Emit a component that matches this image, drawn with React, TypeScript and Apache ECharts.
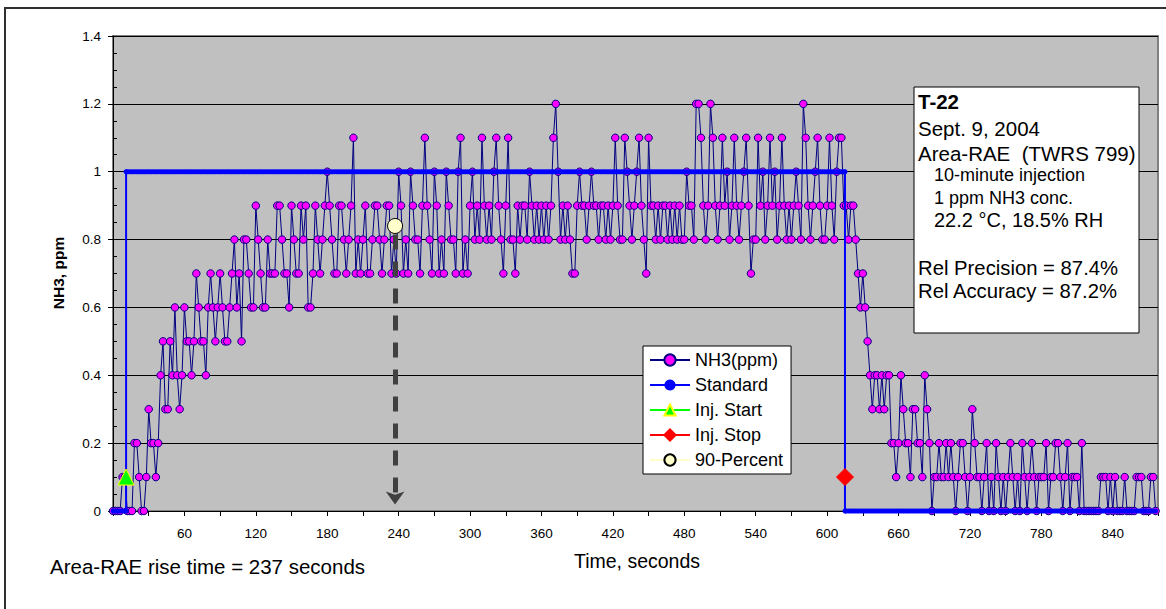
import React, { useEffect, useRef } from "react";
import * as echarts from "echarts";

// ---------------- data ----------------
const SAMPLE_SEC = 2; // one NH3 reading every 2 s, starting at t = 0

// NH3 readings (ppm), one row per minute
const NH3_MIN_00 = [0, 0, 0, 0, 0.1, 0.1, 0, 0, 0, 0.2, 0.2, 0.1, 0, 0, 0.1, 0.3, 0.2, 0.2, 0.1, 0.2, 0.4, 0.5, 0.3, 0.3, 0.5, 0.4, 0.6, 0.4, 0.3, 0.4];
const NH3_MIN_01 = [0.6, 0.5, 0.5, 0.4, 0.5, 0.7, 0.6, 0.5, 0.5, 0.4, 0.6, 0.7, 0.6, 0.5, 0.6, 0.7, 0.6, 0.5, 0.5, 0.6, 0.7, 0.8, 0.6, 0.7, 0.5, 0.8, 0.8, 0.7, 0.6, 0.6];
const NH3_MIN_02 = [0.9, 0.8, 0.7, 0.6, 0.6, 0.8, 0.7, 0.7, 0.7, 0.9, 0.9, 0.8, 0.7, 0.7, 0.6, 0.9, 0.8, 0.7, 0.7, 0.9, 0.8, 0.9, 0.6, 0.6, 0.7, 0.9, 0.8, 0.7, 0.8, 0.9];
const NH3_MIN_03 = [1.0, 0.9, 0.8, 0.7, 0.7, 0.9, 0.9, 0.8, 0.7, 0.8, 0.9, 1.1, 0.7, 0.8, 0.7, 0.8, 0.9, 0.7, 0.7, 0.8, 0.9, 0.9, 0.8, 0.7, 0.8, 0.9, 0.9, 0.7, 0.8, 0.7];
const NH3_MIN_04 = [1.0, 0.9, 0.7, 0.8, 0.7, 1.0, 0.9, 0.8, 0.8, 0.7, 0.9, 1.1, 0.9, 0.8, 0.7, 1.0, 0.9, 0.7, 0.8, 0.7, 1.0, 0.9, 0.8, 0.8, 0.7, 1.0, 1.1, 0.7, 0.8, 0.7];
const NH3_MIN_05 = [0.9, 1.0, 0.8, 0.9, 0.8, 1.1, 0.9, 0.8, 0.9, 0.8, 1.0, 1.1, 0.9, 0.8, 0.7, 0.9, 1.1, 0.8, 0.8, 0.7, 0.9, 0.8, 0.9, 0.9, 0.8, 1.0, 0.9, 0.8, 0.9, 0.8];
const NH3_MIN_06 = [0.9, 0.8, 0.9, 0.8, 0.9, 1.1, 1.2, 1.0, 0.8, 0.9, 0.8, 0.9, 0.8, 0.7, 0.7, 0.9, 1.0, 0.9, 0.9, 0.8, 0.9, 1.0, 0.9, 0.9, 0.8, 0.9, 0.9, 0.8, 0.9, 0.8];
const NH3_MIN_07 = [0.9, 1.1, 0.9, 0.8, 0.8, 1.1, 1.0, 0.9, 0.8, 0.9, 1.0, 1.1, 0.9, 0.8, 0.7, 1.1, 0.9, 0.9, 0.8, 0.9, 0.8, 0.9, 0.9, 0.8, 0.9, 0.8, 0.9, 0.8, 0.9, 0.8];
const NH3_MIN_08 = [0.8, 1.0, 0.9, 0.9, 0.8, 1.2, 1.2, 1.1, 0.9, 0.8, 0.9, 1.2, 1.1, 0.9, 0.8, 0.9, 1.1, 0.9, 1.0, 0.8, 0.9, 1.1, 0.9, 0.8, 0.9, 1.0, 1.1, 0.9, 0.7, 0.8];
const NH3_MIN_09 = [0.8, 1.1, 0.9, 1.0, 0.8, 0.9, 1.1, 0.9, 1.0, 0.8, 0.9, 1.1, 0.9, 0.8, 0.9, 0.8, 0.9, 1.0, 0.9, 0.8, 1.2, 1.1, 0.9, 0.8, 0.9, 1.0, 1.1, 0.9, 0.8, 0.8];
const NH3_MIN_10 = [0.9, 1.1, 0.9, 0.8, 1.0, 1.1, 1.1, 0.9, 0.9, 0.8, 0.9, 0.9, 0.8, 0.7, 0.6, 0.7, 0.6, 0.5, 0.4, 0.3, 0.4, 0.4, 0.3, 0.4, 0.3, 0.4, 0.4, 0.2, 0.2, 0.1];
const NH3_MIN_11 = [0.2, 0.4, 0.3, 0.2, 0.2, 0.1, 0.3, 0.3, 0.2, 0.2, 0.1, 0.4, 0.3, 0.2, 0, 0.1, 0.1, 0.2, 0.1, 0.1, 0.2, 0.1, 0.2, 0.1, 0, 0.1, 0.2, 0.2, 0.1, 0];
const NH3_MIN_12 = [0.1, 0.3, 0.2, 0.1, 0.1, 0, 0.1, 0.2, 0, 0.1, 0, 0.2, 0.1, 0, 0.1, 0, 0.1, 0.2, 0.1, 0, 0.1, 0, 0.2, 0.1, 0, 0.1, 0.2, 0.1, 0, 0.1];
const NH3_MIN_13 = [0.1, 0.1, 0.2, 0, 0.1, 0.1, 0.2, 0.2, 0.1, 0, 0.1, 0.2, 0, 0.1, 0.1, 0.1, 0, 0.2, 0, 0, 0, 0, 0, 0, 0, 0.1, 0.1, 0.1, 0, 0.1];
const NH3_MIN_14 = [0, 0.1, 0, 0, 0, 0.1, 0, 0, 0, 0, 0.1, 0.1, 0.1, 0, 0, 0, 0.1, 0.1, 0];

const NH3_PPM = [
  ...NH3_MIN_00, ...NH3_MIN_01, ...NH3_MIN_02, ...NH3_MIN_03, ...NH3_MIN_04,
  ...NH3_MIN_05, ...NH3_MIN_06, ...NH3_MIN_07, ...NH3_MIN_08, ...NH3_MIN_09,
  ...NH3_MIN_10, ...NH3_MIN_11, ...NH3_MIN_12, ...NH3_MIN_13, ...NH3_MIN_14,
];

const STANDARD_PPM = 1;
const INJ_START_SEC = 11;
const INJ_STOP_SEC = 615;
const INJ_MARK_PPM = 0.1;
const RISE_TIME_SEC = 237;
const NINETY_PCT_PPM = 0.84;

const X_MAX = 878;
const X_TICK = 30;
const X_LABEL_STEP = 60;
const Y_MAX = 1.4;
const Y_TICK = 0.2;
const Y_MINOR = 0.05;

const SERIES_NAMES = ["NH3(ppm)", "Standard", "Inj. Start", "Inj. Stop", "90-Percent"];

const INFO_LINES = [
  { text: "T-22", bold: true, indent: false, size: 20.5 },
  { text: "Sept. 9, 2004", bold: false, indent: false, size: 20.5 },
  { text: "Area-RAE  (TWRS 799)", bold: false, indent: false, size: 20.5 },
  { text: "10-minute injection", bold: false, indent: true, size: 18 },
  { text: "1 ppm NH3 conc.", bold: false, indent: true, size: 18 },
  { text: "22.2 °C, 18.5% RH", bold: false, indent: true, size: 20 },
  { text: "", bold: false, indent: false, size: 20 },
  { text: "Rel Precision = 87.4%", bold: false, indent: false, size: 20.3 },
  { text: "Rel Accuracy = 87.2%", bold: false, indent: false, size: 20.3 },
];
const INFO_LINE_Y = [101, 128, 153, 175, 198, 220, 244, 268, 291];

// ---------------- chart ----------------
const FONT = 'Arial, "Liberation Sans", sans-serif';

export default function App() {
  const ref = useRef<HTMLDivElement>(null);

  useEffect(() => {
    if (!ref.current) return;
    const chart = echarts.init(ref.current, undefined, { renderer: "svg" });

    const times = NH3_PPM.map((_, i) => i * SAMPLE_SEC);
    const nh3Data = NH3_PPM.map((v, i) => [times[i], v]);

    const stdData: number[][] = [];
    times.forEach((t) => {
      if (t > INJ_START_SEC && stdData.length && stdData[stdData.length - 1][0] < INJ_START_SEC) {
        stdData.push([INJ_START_SEC, 0], [INJ_START_SEC, STANDARD_PPM]);
      }
      if (t > INJ_STOP_SEC && stdData[stdData.length - 1][0] < INJ_STOP_SEC) {
        stdData.push([INJ_STOP_SEC, STANDARD_PPM], [INJ_STOP_SEC, 0]);
      }
      stdData.push([t, t >= INJ_START_SEC && t <= INJ_STOP_SEC ? STANDARD_PPM : 0]);
    });

    const infoGraphics = INFO_LINES.map((l, i) => ({
      type: "text",
      x: l.indent ? 934 : 918,
      y: INFO_LINE_Y[i],
      z: 20,
      style: {
        text: l.text,
        font: `${l.bold ? "bold " : ""}${l.size}px ${FONT}`,
        fill: "#000",
        textAlign: "left",
        textVerticalAlign: "middle",
      },
    }));

    chart.setOption({
      animation: false,
      backgroundColor: "#ffffff",
      textStyle: { fontFamily: FONT },
      grid: {
        left: 113,
        top: 36,
        right: 8,
        bottom: 98,
        show: true,
        backgroundColor: "#C0C0C0",
        borderColor: "#808080",
        borderWidth: 2,
      },
      legend: {
        data: SERIES_NAMES,
        orient: "vertical",
        left: 643,
        top: 346,
        padding: [5, 8, 5, 6],
        itemWidth: 40,
        itemHeight: 14,
        itemGap: 7,
        backgroundColor: "#ffffff",
        borderColor: "#000000",
        borderWidth: 1,
        textStyle: { fontSize: 18, color: "#000", fontFamily: FONT },
        selectedMode: false,
      },
      xAxis: {
        type: "value",
        min: 0,
        max: X_MAX,
        interval: X_TICK,
        axisLine: { onZero: false, lineStyle: { color: "#000", width: 1 } },
        axisTick: { show: true, length: 5, lineStyle: { color: "#000" } },
        axisLabel: {
          fontSize: 13.5,
          color: "#000",
          margin: 15,
          formatter: (v: number) => (v > 0 && v % X_LABEL_STEP === 0 ? String(v) : ""),
        },
        splitLine: { show: false },
      },
      yAxis: [
        {
          type: "value",
          min: 0,
          max: Y_MAX,
          interval: Y_TICK,
          position: "left",
          axisLine: { show: true, lineStyle: { color: "#000", width: 1 } },
          axisTick: { show: true, length: 5, lineStyle: { color: "#000" } },
          axisLabel: { fontSize: 13.5, color: "#000", margin: 12 },
          splitLine: { show: true, lineStyle: { color: "#000", width: 1 } },
        },
        {
          type: "value",
          min: 0,
          max: Y_MAX,
          interval: Y_MINOR,
          position: "left",
          axisLine: { show: false },
          axisTick: { show: true, inside: true, length: 4, lineStyle: { color: "#000" } },
          axisLabel: { show: false },
          splitLine: { show: false },
        },
      ],
      series: [
        {
          name: SERIES_NAMES[0],
          type: "line",
          data: nh3Data,
          symbol: "circle",
          symbolSize: 7.5,
          showSymbol: true,
          itemStyle: { color: "#FF00FF", borderColor: "#000080", borderWidth: 1 },
          lineStyle: { color: "#000080", width: 1 },
          z: 2,
          silent: true,
        },
        {
          name: SERIES_NAMES[1],
          type: "line",
          data: stdData,
          symbol: "circle",
          symbolSize: 5,
          showSymbol: true,
          itemStyle: { color: "#0000FF", borderColor: "#0000FF", borderWidth: 0 },
          lineStyle: { color: "#0000FF", width: 2 },
          z: 3,
          silent: true,
        },
        {
          name: SERIES_NAMES[2],
          type: "line",
          data: [[INJ_START_SEC, INJ_MARK_PPM]],
          symbol: "triangle",
          symbolSize: 16,
          itemStyle: { color: "#00FF00", borderColor: "#FFFF00", borderWidth: 1 },
          lineStyle: { color: "#00FF00", width: 1 },
          z: 5,
          silent: true,
        },
        {
          name: SERIES_NAMES[3],
          type: "line",
          data: [[INJ_STOP_SEC, INJ_MARK_PPM]],
          symbol: "diamond",
          symbolSize: 17,
          itemStyle: { color: "#FF0000", borderColor: "#FF0000", borderWidth: 1 },
          lineStyle: { color: "#FF0000", width: 1 },
          z: 5,
          silent: true,
        },
        {
          name: SERIES_NAMES[4],
          type: "line",
          data: [[RISE_TIME_SEC, NINETY_PCT_PPM]],
          symbol: "circle",
          symbolSize: 15,
          itemStyle: { color: "#FFFFCC", borderColor: "#000000", borderWidth: 1 },
          lineStyle: { color: "#FFFFCC", width: 1 },
          z: 6,
          silent: true,
          markLine: {
            silent: true,
            symbol: ["none", "arrow"],
            symbolSize: [14, 13],
            label: { show: false },
            lineStyle: { color: "#404040", width: 5, type: [15, 12] },
            emphasis: { disabled: true },
            data: [
              [
                { coord: [RISE_TIME_SEC, NINETY_PCT_PPM - 0.025] },
                { coord: [RISE_TIME_SEC, 0.019] },
              ],
            ],
          },
        },
      ],
      graphic: [
        {
          type: "rect",
          z: 0,
          silent: true,
          shape: { x: 5, y: 8, width: 1200, height: 700 },
          style: { fill: "none", stroke: "#303030", lineWidth: 2 },
        },
        {
          type: "rect",
          z: 19,
          silent: true,
          shape: { x: 914, y: 87, width: 225, height: 246 },
          style: { fill: "#ffffff", stroke: "#000000", lineWidth: 1 },
        },
        ...infoGraphics,
        {
          type: "text",
          x: 58,
          y: 273,
          rotation: Math.PI / 2,
          z: 20,
          style: {
            text: "NH3, ppm",
            font: `bold 15.5px ${FONT}`,
            fill: "#000",
            textAlign: "center",
            textVerticalAlign: "middle",
          },
        },
        {
          type: "text",
          x: 637,
          y: 561,
          z: 20,
          style: {
            text: "Time, seconds",
            font: `19.5px ${FONT}`,
            fill: "#000",
            textAlign: "center",
            textVerticalAlign: "middle",
          },
        },
        {
          type: "text",
          x: 50,
          y: 566,
          z: 20,
          style: {
            text: `Area-RAE rise time = ${RISE_TIME_SEC} seconds`,
            font: `20.5px ${FONT}`,
            fill: "#000",
            textAlign: "left",
            textVerticalAlign: "middle",
          },
        },
      ],
    });

    return () => chart.dispose();
  }, []);

  return (
    <div
      ref={ref}
      style={{ position: "fixed", left: 0, top: 0, width: 1166, height: 609, background: "#fff" }}
    />
  );
}
